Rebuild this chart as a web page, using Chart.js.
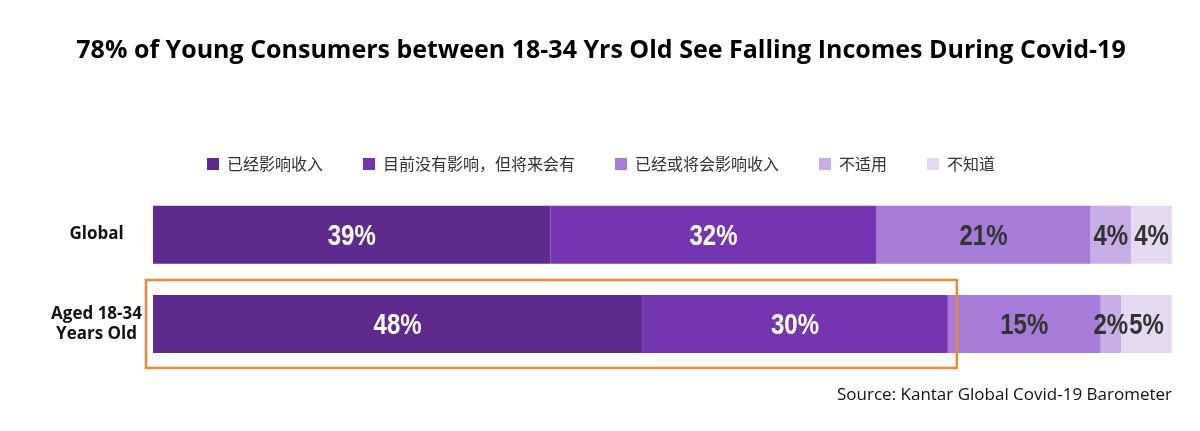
<!DOCTYPE html>
<html><head><meta charset="utf-8">
<script src="https://cdn.jsdelivr.net/npm/chart.js@4"></script>
<style>html,body{margin:0;padding:0;background:#fff}#w{width:1200px;height:431px}</style>
</head><body><div id="w"><canvas id="c"></canvas></div>
<script>
const categories = [["Global"], ["Aged 18-34", "Years Old"]];
const seriesNames = ["已经影响收入", "目前没有影响，但将来会有", "已经或将会影响收入", "不适用", "不知道"];
const affectedNow = [39, 48];
const affectedFuture = [32, 30];
const affectedOrWill = [21, 15];
const notApplicable = [4, 2];
const dontKnow = [4, 5];
const colors = ["#5f2a8e", "#7535b0", "#a77bd8", "#c9aee6", "#e6d9f2"];
const labelColors = ["#ffffff", "#ffffff", "#333333", "#333333", "#333333"];
const values = [affectedNow, affectedFuture, affectedOrWill, notApplicable, dontKnow];

const legendPad = {id:'legendPad', beforeInit(chart){const f=chart.legend.fit; chart.legend.fit=function(){f.call(this); this.height+=8;};}};
const segLabels = {id:'segLabels', afterDatasetsDraw(chart){
  const ctx=chart.ctx; ctx.save();
  ctx.font='bold 30px "Liberation Sans", Arial, sans-serif';
  ctx.textAlign='center'; ctx.textBaseline='middle';
  chart.data.datasets.forEach((ds,i)=>{
    chart.getDatasetMeta(i).data.forEach((bar,j)=>{
      const cx=(bar.x+bar.base)/2;
      ctx.save(); ctx.translate(cx, bar.y+2); ctx.scale(0.8,1);
      ctx.fillStyle=labelColors[i];
      ctx.fillText(ds.data[j]+'%', 0, 0);
      ctx.restore();
    });
  });
  const x=chart.scales.x, m=chart.getDatasetMeta(1).data[1];
  const end=x.getPixelForValue(affectedNow[1]+affectedFuture[1]);
  ctx.strokeStyle='#e8893c'; ctx.lineWidth=2.5;
  ctx.strokeRect(x.getPixelForValue(0)-7, m.y-44, end-x.getPixelForValue(0)+16, 88);
  ctx.restore();
}};

new Chart(document.getElementById('c'), {
  type:'bar',
  data:{labels:categories, datasets:seriesNames.map((n,i)=>({label:n,data:values[i],backgroundColor:colors[i],borderWidth:0,barPercentage:0.65,categoryPercentage:1}))},
  options:{
    indexAxis:'y', responsive:true, maintainAspectRatio:false, animation:false,
    layout:{padding:{left:30,right:28,top:0,bottom:26}},
    scales:{
      x:{stacked:true,min:0,max:100,display:false},
      y:{stacked:true,grid:{display:false},border:{display:false},
         afterFit(s){s.width=123;},
         ticks:{crossAlign:'center',color:'#111',font:{family:'"Open Sans", sans-serif',size:17,weight:'bold'}}}
    },
    plugins:{
      title:{display:true,text:'78% of Young Consumers between 18-34 Yrs Old See Falling Incomes During Covid-19',
        color:'#000',font:{family:'"Open Sans", sans-serif',size:25,weight:'bold'},padding:{top:36,bottom:50}},
      subtitle:{display:true,position:'bottom',align:'end',text:'Source: Kantar Global Covid-19 Barometer',
        color:'#111',font:{family:'"Open Sans", sans-serif',size:17},padding:{top:16,bottom:0}},
      legend:{labels:{boxWidth:12,boxHeight:12,padding:40,color:'#333',font:{family:'"Noto Sans CJK SC", sans-serif',size:16}}},
      tooltip:{enabled:false}
    }
  },
  plugins:[legendPad,segLabels]
});
</script></body></html>
